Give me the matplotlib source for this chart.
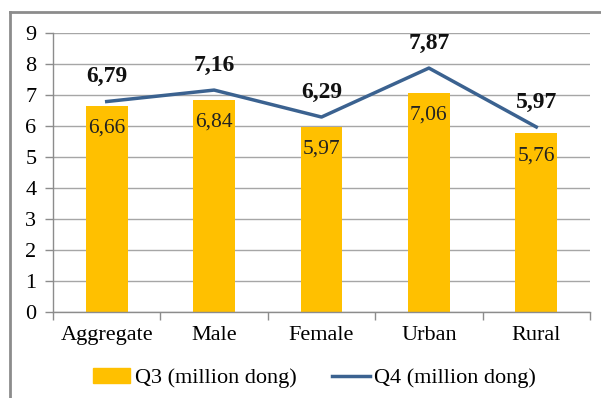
import matplotlib.pyplot as plt
from matplotlib.lines import Line2D
import numpy as np

plt.rcParams['font.family'] = ['Liberation Serif', 'DejaVu Serif']

categories = ["Aggregate", "Male", "Female", "Urban", "Rural"]
q3_values = [6.66, 6.84, 5.97, 7.06, 5.76]
q4_values = [6.79, 7.16, 6.29, 7.87, 5.97]

bar_color = "#FFC000"
line_color = "#3B6290"
axis_gray = "#8C8C8C"


def fmt(v):
    # comma as decimal separator
    return f"{v:.2f}".replace(".", ",")


fig = plt.figure(figsize=(6.01, 3.98), dpi=100)
ax = fig.add_axes([0.0882, 0.216, 0.8935, 0.701])

x = np.arange(len(categories))
ax.bar(x, q3_values, width=0.39, color=bar_color, zorder=2, label="Q3 (million dong)")
ax.plot(x, q4_values, color=line_color, linewidth=2.5, zorder=3, label="Q4 (million dong)")

for xi, v in zip(x, q3_values):
    ax.annotate(fmt(v), (xi, v), xytext=(0, -16), textcoords="offset points",
                ha="center", va="center", fontsize=15.5, color="#222222", zorder=4)
for xi, v in zip(x, q4_values):
    ax.annotate(fmt(v), (xi, v), xytext=(0, 18), textcoords="offset points",
                ha="center", va="center", fontsize=17, fontweight="bold",
                color="#111111", zorder=4)

ax.set_xlim(-0.5, len(categories) - 0.5)
ax.set_ylim(0, 9)
ax.set_yticks(range(10))
ax.yaxis.grid(True, color="#A6A6A6", linewidth=1)
ax.set_axisbelow(True)

ax.set_xticks(x)
ax.set_xticklabels(categories)
ax.set_xticks(np.arange(-0.5, len(categories), 1.0), minor=True)
ax.tick_params(axis="x", which="major", length=0, pad=10, labelsize=16)
ax.tick_params(axis="x", which="minor", length=6, color=axis_gray, width=1)
ax.tick_params(axis="y", length=6, color=axis_gray, width=1, labelsize=16, pad=6)

for side in ("top", "right"):
    ax.spines[side].set_visible(False)
for side in ("left", "bottom"):
    ax.spines[side].set_color(axis_gray)
    ax.spines[side].set_linewidth(1)

handles = [plt.Rectangle((0, 0), 1, 1, color=bar_color),
           Line2D([0], [0], color=line_color, linewidth=2.5)]
fig.legend(handles, ["Q3 (million dong)", "Q4 (million dong)"], loc="center",
           bbox_to_anchor=(0.523, 0.05), ncol=2, frameon=False, fontsize=16,
           handlelength=1.7, handletextpad=0.2, columnspacing=1.6)

# outer chart border (left and top edges visible)
fig.add_artist(Line2D([10 / 601, 10 / 601], [0, 1 - 12 / 398], transform=fig.transFigure,
                      color=axis_gray, linewidth=2))
fig.add_artist(Line2D([10 / 601, 1], [1 - 12 / 398, 1 - 12 / 398], transform=fig.transFigure,
                      color=axis_gray, linewidth=2))

fig.savefig("out.png", dpi=100)
